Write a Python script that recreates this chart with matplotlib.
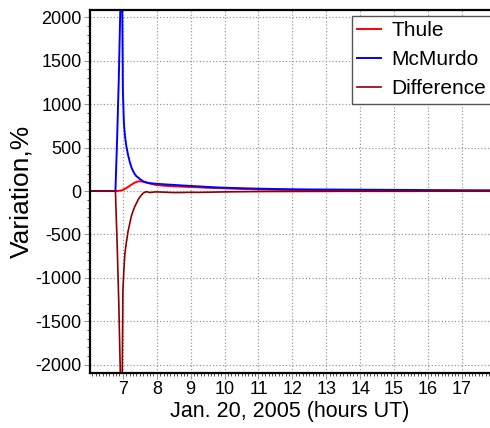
import matplotlib
matplotlib.use('Agg')
import matplotlib.pyplot as plt
from matplotlib.ticker import MultipleLocator

plt.rcParams['font.family'] = ['Liberation Sans', 'DejaVu Sans']
plt.rcParams['axes.unicode_minus'] = False

hours = [6.03, 6.78, 6.83, 6.88, 6.93, 6.97, 7.00, 7.03, 7.06, 7.10,
         7.15, 7.20, 7.25, 7.30, 7.35, 7.40, 7.45, 7.50, 7.55, 7.60,
         7.65, 7.70, 7.80, 7.90, 8.00, 8.25, 8.50, 8.75, 9.00, 9.25,
         9.50, 9.75, 10.0, 10.5, 11.0, 11.5, 12.0, 12.5, 13.0, 13.5,
         14.0, 14.5, 15.0, 15.5, 16.0, 16.5, 17.0, 17.5, 17.83]

thule = [0, 0, 0, 2, 5, 8, 15, 20, 26, 33,
         46, 60, 72, 85, 96, 104, 110, 112, 110, 106,
         101, 96, 86, 76, 69, 60, 54, 50, 46, 42,
         37, 34, 31, 24, 19, 15, 12, 10, 9, 8,
         8, 7, 7, 6, 5, 5, 4, 4, 4]

mcmurdo = [0, 0, 600, 1300, 2200, 2700, 1150, 780, 640, 520,
           420, 340, 275, 230, 195, 170, 155, 138, 124, 112,
           104, 98, 90, 86, 83, 76, 70, 64, 58, 53,
           47, 42, 38, 32, 27, 23, 20, 18, 17, 16,
           15, 14, 13, 12, 10, 9, 8, 7, 7]

difference = [0, 0, -600, -1300, -2200, -2700, -1150, -900, -720, -600,
              -470, -380, -290, -230, -180, -140, -100, -70, -45, -25,
              -14, -8, -18, -12, -10, -14, -18, -17, -15, -16,
              -14, -12, -10, -8, -6, -5, -5, -4, -4, -3,
              -3, -3, -3, -3, -2, -2, -2, -2, -2]

fig = plt.figure(figsize=(4.9, 4.28), dpi=100)
ax = fig.add_axes([90 / 490, 55.3 / 428, 400 / 490, 363.2 / 428])

ax.plot(hours, thule, color='#ff0000', lw=1.4, label='Thule')
ax.plot(hours, mcmurdo, color='#0000ff', lw=1.4, label='McMurdo')
ax.plot(hours, difference, color='#8b0000', lw=1.2, label='Difference')

ax.set_xlim(6.03, 17.83)
ax.set_ylim(-2092, 2090)
ax.xaxis.set_minor_locator(MultipleLocator(0.1))
ax.yaxis.set_major_locator(MultipleLocator(500))
ax.yaxis.set_minor_locator(MultipleLocator(100))
ax.set_xticks(range(7, 18))

ax.grid(True, which='major', ls=':', color='#999999', lw=0.9)
ax.tick_params(which='major', direction='out', length=4, color='#999999', labelsize=13, pad=2)
ax.tick_params(which='minor', direction='out', length=2, color='#333333')

for s in ['left', 'bottom', 'top']:
    ax.spines[s].set_linewidth(1.6)
ax.spines['right'].set_visible(False)

ax.set_xlabel('Jan. 20, 2005 (hours UT)', fontsize=15.5)
ax.xaxis.set_label_coords(0.5, -0.078)
ax.set_ylabel('Variation,%', fontsize=19)
ax.yaxis.set_label_coords(-0.142, 0.5)

leg = ax.legend(loc='upper left', bbox_to_anchor=(351.7 / 490, 1 - 15.7 / 428),
                bbox_transform=fig.transFigure, fontsize=15, frameon=True,
                fancybox=False, framealpha=1, edgecolor='#555555',
                handlelength=1.15, handletextpad=0.48, labelspacing=0.48,
                borderpad=0.26, borderaxespad=0)
leg.get_frame().set_linewidth(1.0)

fig.savefig('out.png', dpi=100)
